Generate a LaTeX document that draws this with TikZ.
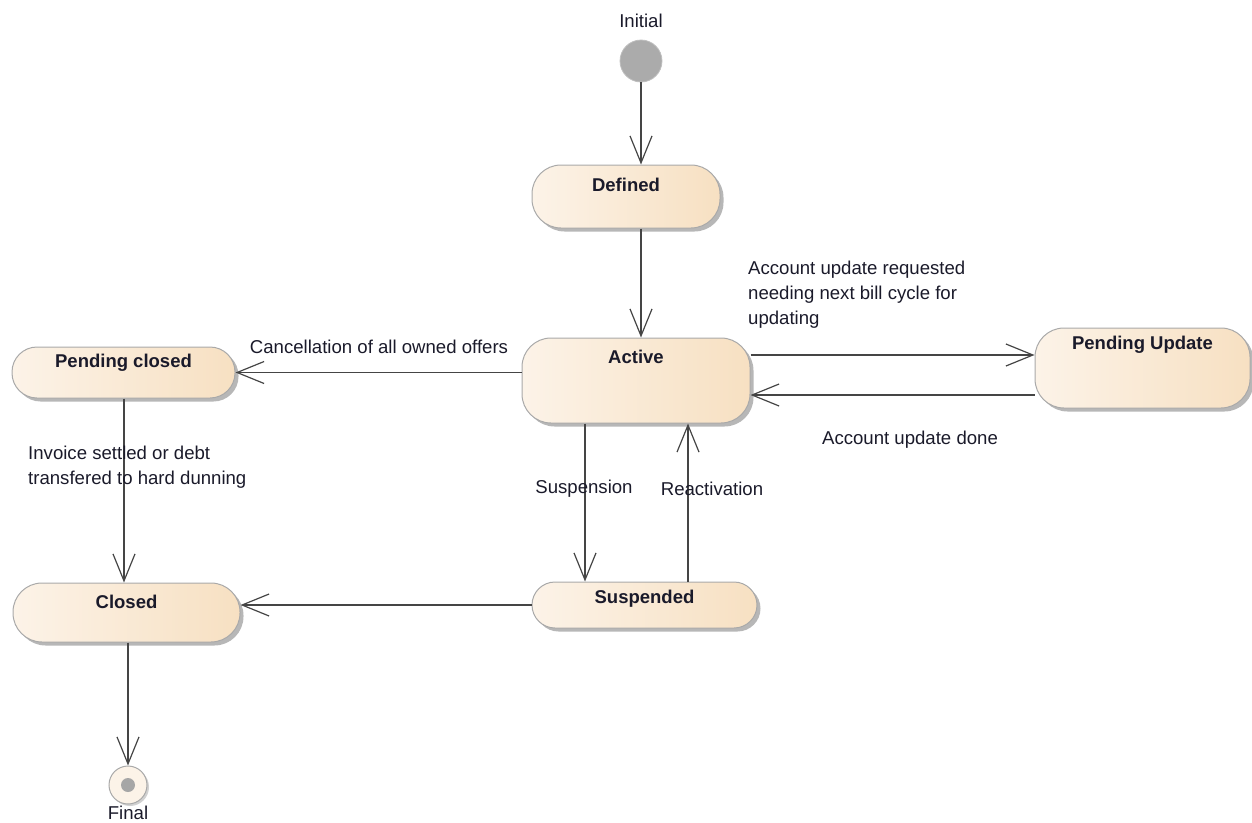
\documentclass[tikz,border=0pt]{standalone}
\usepackage{fontspec}
\setmainfont{Liberation Sans}
\usetikzlibrary{arrows.meta,shadows}
\definecolor{fillL}{HTML}{FCF3E8}
\definecolor{fillR}{HTML}{F7E0C2}
\definecolor{edgeC}{HTML}{A9A9A9}
\definecolor{lineC}{HTML}{454545}
\definecolor{txtC}{HTML}{1A1A2A}
\tikzset{
  statebox/.style={draw=edgeC, line width=1pt, left color=fillL, right color=fillR,
    rounded corners=29pt, inner sep=0pt,
    drop shadow={shadow xshift=3.5pt, shadow yshift=-3.5pt, fill=black!40, opacity=0.7}},
  title/.style={font=\fontsize{18.5}{22}\selectfont\bfseries, text=txtC, inner sep=0pt},
  lbl/.style={font=\fontsize{18.6}{25}\selectfont, text=txtC, inner sep=0pt},
  arr/.style={draw=lineC, line width=1.2pt, -{Straight Barb[length=27pt,width=22pt,line width=1.2pt]}},
}
\begin{document}
\begin{tikzpicture}[x=1pt,y=-1pt]
\useasboundingbox (0,0) rectangle (1252,822);
% initial / final
\node[circle, fill=black!33, draw=black!25, line width=0.8pt, minimum size=42pt, inner sep=0pt] (init) at (641,61) {};
\node[lbl] (initlbl) at (641,21) {Initial};
\node[circle, draw=edgeC, line width=1pt, fill=fillL, minimum size=38pt, inner sep=0pt,
  drop shadow={shadow xshift=2pt, shadow yshift=-2pt, fill=black!30, opacity=0.6}] (final) at (128,785) {};
\node[circle, fill=black!35, minimum size=14pt, inner sep=0pt] (finaldot) at (final.center) {};
\node[lbl] (finallbl) at (128,812.5) {Final};
% states
\node[statebox, minimum width=188pt, minimum height=63pt] (defined) at (626,196.5) {};
\node[statebox, minimum width=228pt, minimum height=85pt] (active) at (636,380.5) {};
\node[statebox, rounded corners=25pt, minimum width=223pt, minimum height=51pt] (pc) at (123.5,372.5) {};
\node[statebox, minimum width=215pt, minimum height=80pt] (pu) at (1142.5,368) {};
\node[statebox, minimum width=227pt, minimum height=59pt] (closed) at (126.5,612.5) {};
\node[statebox, rounded corners=23pt, minimum width=225pt, minimum height=46pt] (susp) at (644.5,605) {};
\node[title] (definedt) at (626,185) {Defined};
\node[title] (activet) at (636,357) {Active};
\node[title] (pct) at (123.5,363) {Pending closed};
\node[title] (put) at (1142.5,345) {Pending Update};
\node[title] (closedt) at (126.5,602) {Closed};
\node[title] (suspt) at (644.5,599) {Suspended};
% connectors
\draw[arr] (init.south) -- (init.south |- defined.north);
\draw[arr] (defined.south -| init) -- (active.north -| init);
\draw[arr] (active.east |- 0,355) -- (pu.west |- 0,355);
\draw[arr] (pu.west |- 0,395) -- (active.east |- 0,395);
\draw[arr] (active.west |- pc.east) -- (pc.east);
\draw[arr] (pc.south -| 124,0) -- (closed.north -| 124,0);
\draw[arr] (active.south -| 585,0) -- (susp.north -| 585,0);
\draw[arr] (susp.north -| 688,0) -- (active.south -| 688,0);
\draw[arr] (susp.west) -- (closed.east |- susp.west);
\draw[arr] (final |- closed.south) -- (final.north);
% labels
\node[lbl, anchor=north west, align=left] (l1) at (748,261) {Account update requested\\needing next bill cycle for\\updating};
\node[lbl] (l2) at (910,440) {Account update done};
\node[lbl] (l3) at (379,347) {Cancellation of all owned offers};
\node[lbl, anchor=north west, align=left] (l4) at (28,446) {Invoice settled or debt\\transfered to hard dunning};
\node[lbl] (l5) at (584,489) {Suspension};
\node[lbl] (l6) at (712,489) {Reactivation};
\end{tikzpicture}
\end{document}
